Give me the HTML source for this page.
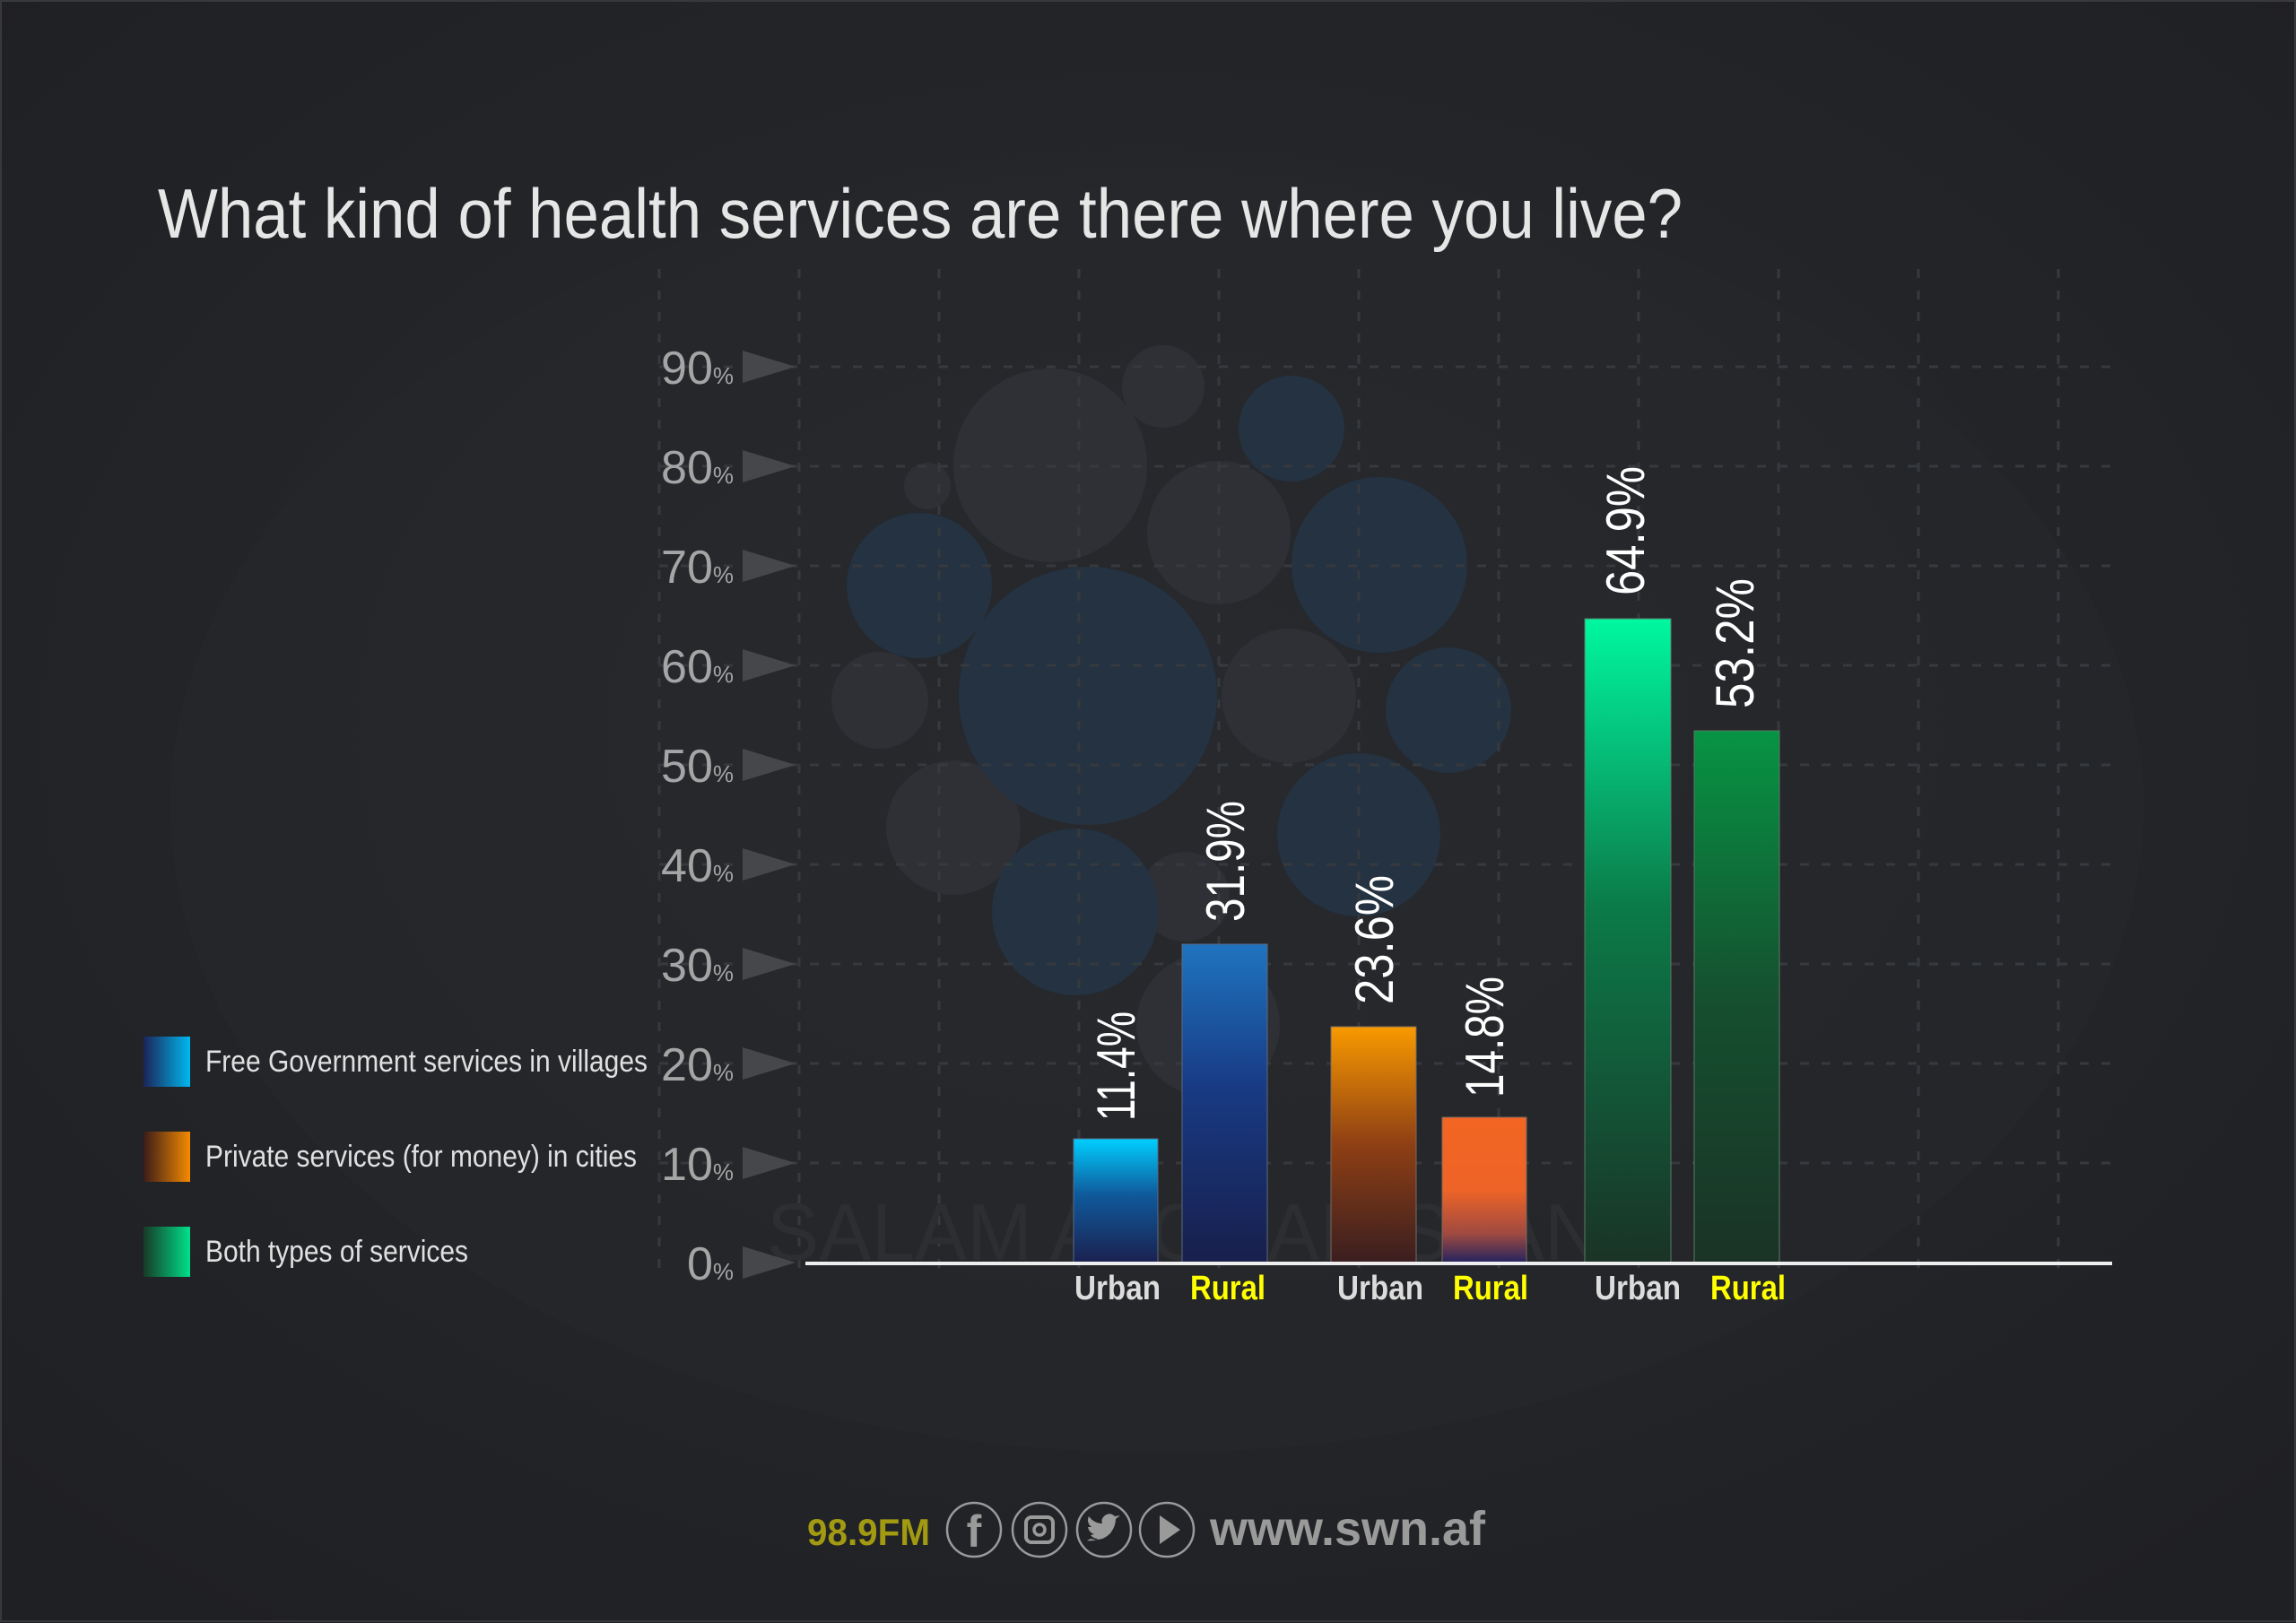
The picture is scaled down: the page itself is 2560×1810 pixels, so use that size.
<!DOCTYPE html>
<html><head><meta charset="utf-8"><style>
html,body{margin:0;padding:0;background:#222327;}
svg{display:block}
</style></head><body>
<svg width="2560" height="1810" viewBox="0 0 2560 1810" xmlns="http://www.w3.org/2000/svg">
<defs>
<radialGradient id="bgv" cx="0.5" cy="0.45" r="0.7">
<stop offset="0" stop-color="#292b2f"/><stop offset="1" stop-color="#1f2023"/>
</radialGradient>
<linearGradient id="gU1" x1="0" y1="0" x2="0" y2="1"><stop offset="0" stop-color="#00cfff"/><stop offset="0.45" stop-color="#0f5a9c"/><stop offset="1" stop-color="#1b2150"/></linearGradient>
<linearGradient id="gR1" x1="0" y1="0" x2="0" y2="1"><stop offset="0" stop-color="#1f74bf"/><stop offset="0.45" stop-color="#183a84"/><stop offset="1" stop-color="#181f4c"/></linearGradient>
<linearGradient id="gU2" x1="0" y1="0" x2="0" y2="1"><stop offset="0" stop-color="#f89a00"/><stop offset="0.5" stop-color="#8e3f14"/><stop offset="1" stop-color="#3a1e20"/></linearGradient>
<linearGradient id="gR2" x1="0" y1="0" x2="0" y2="1"><stop offset="0" stop-color="#f26522"/><stop offset="0.5" stop-color="#ee6427"/><stop offset="0.8" stop-color="#a04a40"/><stop offset="1" stop-color="#23245e"/></linearGradient>
<linearGradient id="gU3" x1="0" y1="0" x2="0" y2="1"><stop offset="0" stop-color="#00f7a0"/><stop offset="0.45" stop-color="#0b7a48"/><stop offset="1" stop-color="#1a3326"/></linearGradient>
<linearGradient id="gR3" x1="0" y1="0" x2="0" y2="1"><stop offset="0" stop-color="#079444"/><stop offset="0.5" stop-color="#15502f"/><stop offset="1" stop-color="#1a3326"/></linearGradient>
<linearGradient id="lg1" x1="0" y1="0" x2="1" y2="0"><stop offset="0" stop-color="#1b2458"/><stop offset="1" stop-color="#00b8f0"/></linearGradient>
<linearGradient id="lg2" x1="0" y1="0" x2="1" y2="0"><stop offset="0" stop-color="#3a1c18"/><stop offset="1" stop-color="#f58a00"/></linearGradient>
<linearGradient id="lg3" x1="0" y1="0" x2="1" y2="0"><stop offset="0" stop-color="#173a26"/><stop offset="1" stop-color="#00e08a"/></linearGradient>
</defs>
<rect width="2560" height="1810" fill="url(#bgv)"/>
<ellipse cx="1290" cy="900" rx="1100" ry="720" fill="#26282c" opacity="0.5"/>
<rect x="1" y="1" width="2558" height="1807" fill="none" stroke="#38393c" stroke-width="2"/>

<g fill="#2f3035">
<circle cx="1171" cy="519" r="108"/><circle cx="1359" cy="594" r="80"/><circle cx="1437" cy="776" r="75"/>
<circle cx="1297" cy="431" r="46"/><circle cx="1034" cy="542" r="26"/><circle cx="981" cy="781" r="54"/>
<circle cx="1063" cy="923" r="75"/><circle cx="1347" cy="1143" r="80"/><circle cx="1321" cy="1000" r="50"/>
</g>
<g fill="#243241">
<circle cx="1213" cy="776" r="144"/><circle cx="1025" cy="653" r="81"/><circle cx="1440" cy="478" r="59"/>
<circle cx="1538" cy="630" r="98"/><circle cx="1615" cy="792" r="70"/><circle cx="1515" cy="931" r="91"/>
<circle cx="1199" cy="1017" r="93"/>
</g>

<g stroke="#36393d" stroke-width="3" stroke-dasharray="10 14">
<line x1="735" y1="300" x2="735" y2="1420"/><line x1="891" y1="300" x2="891" y2="1420"/>
<line x1="1047" y1="300" x2="1047" y2="1420"/><line x1="1203" y1="300" x2="1203" y2="1420"/>
<line x1="1359" y1="300" x2="1359" y2="1420"/><line x1="1515" y1="300" x2="1515" y2="1420"/>
<line x1="1671" y1="300" x2="1671" y2="1420"/><line x1="1827" y1="300" x2="1827" y2="1420"/>
<line x1="1983" y1="300" x2="1983" y2="1420"/><line x1="2139" y1="300" x2="2139" y2="1420"/>
<line x1="2295" y1="300" x2="2295" y2="1420"/>
<line x1="735" y1="409" x2="2360" y2="409"/><line x1="735" y1="520" x2="2360" y2="520"/>
<line x1="735" y1="631" x2="2360" y2="631"/><line x1="735" y1="742" x2="2360" y2="742"/>
<line x1="735" y1="853" x2="2360" y2="853"/><line x1="735" y1="964" x2="2360" y2="964"/>
<line x1="735" y1="1075" x2="2360" y2="1075"/><line x1="735" y1="1186" x2="2360" y2="1186"/>
<line x1="735" y1="1297" x2="2360" y2="1297"/>
</g>

<text x="1320" y="1405" text-anchor="middle" font-family="Liberation Sans, sans-serif" font-size="90" fill="#2c2e32" textLength="930" lengthAdjust="spacingAndGlyphs">SALAM AFGHANISTAN</text>

<text x="176" y="265" font-family="Liberation Sans, sans-serif" font-size="78" fill="#e6e6e6" textLength="1700" lengthAdjust="spacingAndGlyphs">What kind of health services are there where you live?</text>

<g font-family="Liberation Sans, sans-serif" font-size="52" fill="#a5a5a5" text-anchor="end">
<text x="818" y="428">90<tspan font-size="26">%</tspan></text>
<text x="818" y="539">80<tspan font-size="26">%</tspan></text>
<text x="818" y="650">70<tspan font-size="26">%</tspan></text>
<text x="818" y="761">60<tspan font-size="26">%</tspan></text>
<text x="818" y="872">50<tspan font-size="26">%</tspan></text>
<text x="818" y="983">40<tspan font-size="26">%</tspan></text>
<text x="818" y="1094">30<tspan font-size="26">%</tspan></text>
<text x="818" y="1205">20<tspan font-size="26">%</tspan></text>
<text x="818" y="1316">10<tspan font-size="26">%</tspan></text>
<text x="818" y="1427">0<tspan font-size="26">%</tspan></text>
</g>
<g fill="#45474b">
<polygon points="828,391 887,409 828,427"/><polygon points="828,502 887,520 828,538"/>
<polygon points="828,613 887,631 828,649"/><polygon points="828,724 887,742 828,760"/>
<polygon points="828,835 887,853 828,871"/><polygon points="828,946 887,964 828,982"/>
<polygon points="828,1057 887,1075 828,1093"/><polygon points="828,1168 887,1186 828,1204"/>
<polygon points="828,1279 887,1297 828,1315"/><polygon points="828,1390 887,1408 828,1426"/>
</g>

<rect x="1197" y="1270" width="94" height="138" fill="url(#gU1)" stroke="#5a6a80" stroke-width="1"/>
<rect x="1318" y="1053" width="95" height="355" fill="url(#gR1)" stroke="#5a6a80" stroke-width="1"/>
<rect x="1484" y="1145" width="95" height="263" fill="url(#gU2)" stroke="#7a6a60" stroke-width="1"/>
<rect x="1608" y="1246" width="94" height="162" fill="url(#gR2)" stroke="#7a6a60" stroke-width="1"/>
<rect x="1767" y="690" width="96" height="718" fill="url(#gU3)" stroke="#5a7a66" stroke-width="1"/>
<rect x="1889" y="815" width="95" height="593" fill="url(#gR3)" stroke="#5a7a66" stroke-width="1"/>

<line x1="898" y1="1409" x2="2355" y2="1409" stroke="#eeeeee" stroke-width="4"/>

<g font-family="Liberation Sans, sans-serif" font-size="60" fill="#ffffff">
<text transform="translate(1265,1250) rotate(-90)" textLength="122" lengthAdjust="spacingAndGlyphs">11.4%</text>
<text transform="translate(1387,1028) rotate(-90)" textLength="135" lengthAdjust="spacingAndGlyphs">31.9%</text>
<text transform="translate(1553,1120) rotate(-90)" textLength="144" lengthAdjust="spacingAndGlyphs">23.6%</text>
<text transform="translate(1676,1224) rotate(-90)" textLength="135" lengthAdjust="spacingAndGlyphs">14.8%</text>
<text transform="translate(1833,664) rotate(-90)" textLength="144" lengthAdjust="spacingAndGlyphs">64.9%</text>
<text transform="translate(1955,790) rotate(-90)" textLength="145" lengthAdjust="spacingAndGlyphs">53.2%</text>
</g>

<g font-family="Liberation Sans Narrow, Liberation Sans, sans-serif" font-size="38" font-weight="bold" text-anchor="middle">
<text x="1246" y="1449" fill="#dcdcdc" textLength="96" lengthAdjust="spacingAndGlyphs">Urban</text>
<text x="1369" y="1449" fill="#ffff00" textLength="84" lengthAdjust="spacingAndGlyphs">Rural</text>
<text x="1539" y="1449" fill="#dcdcdc" textLength="96" lengthAdjust="spacingAndGlyphs">Urban</text>
<text x="1662" y="1449" fill="#ffff00" textLength="84" lengthAdjust="spacingAndGlyphs">Rural</text>
<text x="1826" y="1449" fill="#dcdcdc" textLength="96" lengthAdjust="spacingAndGlyphs">Urban</text>
<text x="1949" y="1449" fill="#ffff00" textLength="84" lengthAdjust="spacingAndGlyphs">Rural</text>
</g>

<rect x="160" y="1156" width="52" height="56" fill="url(#lg1)"/>
<rect x="160" y="1262" width="52" height="56" fill="url(#lg2)"/>
<rect x="160" y="1368" width="52" height="56" fill="url(#lg3)"/>
<g font-family="Liberation Sans, sans-serif" font-size="34" fill="#e0e0e0">
<text x="229" y="1195" textLength="493" lengthAdjust="spacingAndGlyphs">Free Government services in villages</text>
<text x="229" y="1301" textLength="481" lengthAdjust="spacingAndGlyphs">Private services (for money) in cities</text>
<text x="229" y="1407" textLength="293" lengthAdjust="spacingAndGlyphs">Both types of services</text>
</g>

<text x="900" y="1723" font-family="Liberation Sans, sans-serif" font-size="42" font-weight="bold" fill="#a19a12" textLength="137" lengthAdjust="spacingAndGlyphs">98.9FM</text>
<g fill="none" stroke="#9a9a9a" stroke-width="2.5">
<circle cx="1086" cy="1706" r="30"/><circle cx="1159" cy="1706" r="30"/>
<circle cx="1231" cy="1706" r="30"/><circle cx="1301" cy="1706" r="30"/>
</g>
<text x="1086" y="1725" text-anchor="middle" font-family="Liberation Sans, sans-serif" font-size="50" font-weight="bold" fill="#9a9a9a">f</text>
<rect x="1144" y="1692" width="30" height="28" rx="6" fill="none" stroke="#9a9a9a" stroke-width="4"/>
<circle cx="1159" cy="1706" r="6" fill="none" stroke="#9a9a9a" stroke-width="3.5"/>
<path d="M1216,1716 q12,4 22,-6 q6,-8 6,-16 l5,-4 -6,1 q-5,-5 -11,-1 q-5,4 -3,9 q-9,0 -15,-8 q-3,7 3,12 l-4,0 q1,6 7,8 l-4,1 q3,4 8,4 q-4,3 -12,2 z" fill="#9a9a9a"/>
<polygon points="1293,1690 1316,1706 1293,1722" fill="#9a9a9a"/>
<text x="1349" y="1723" font-family="Liberation Sans, sans-serif" font-size="54" font-weight="bold" fill="#9a9a9a" textLength="307" lengthAdjust="spacingAndGlyphs">www.swn.af</text>
</svg>
</body></html>
